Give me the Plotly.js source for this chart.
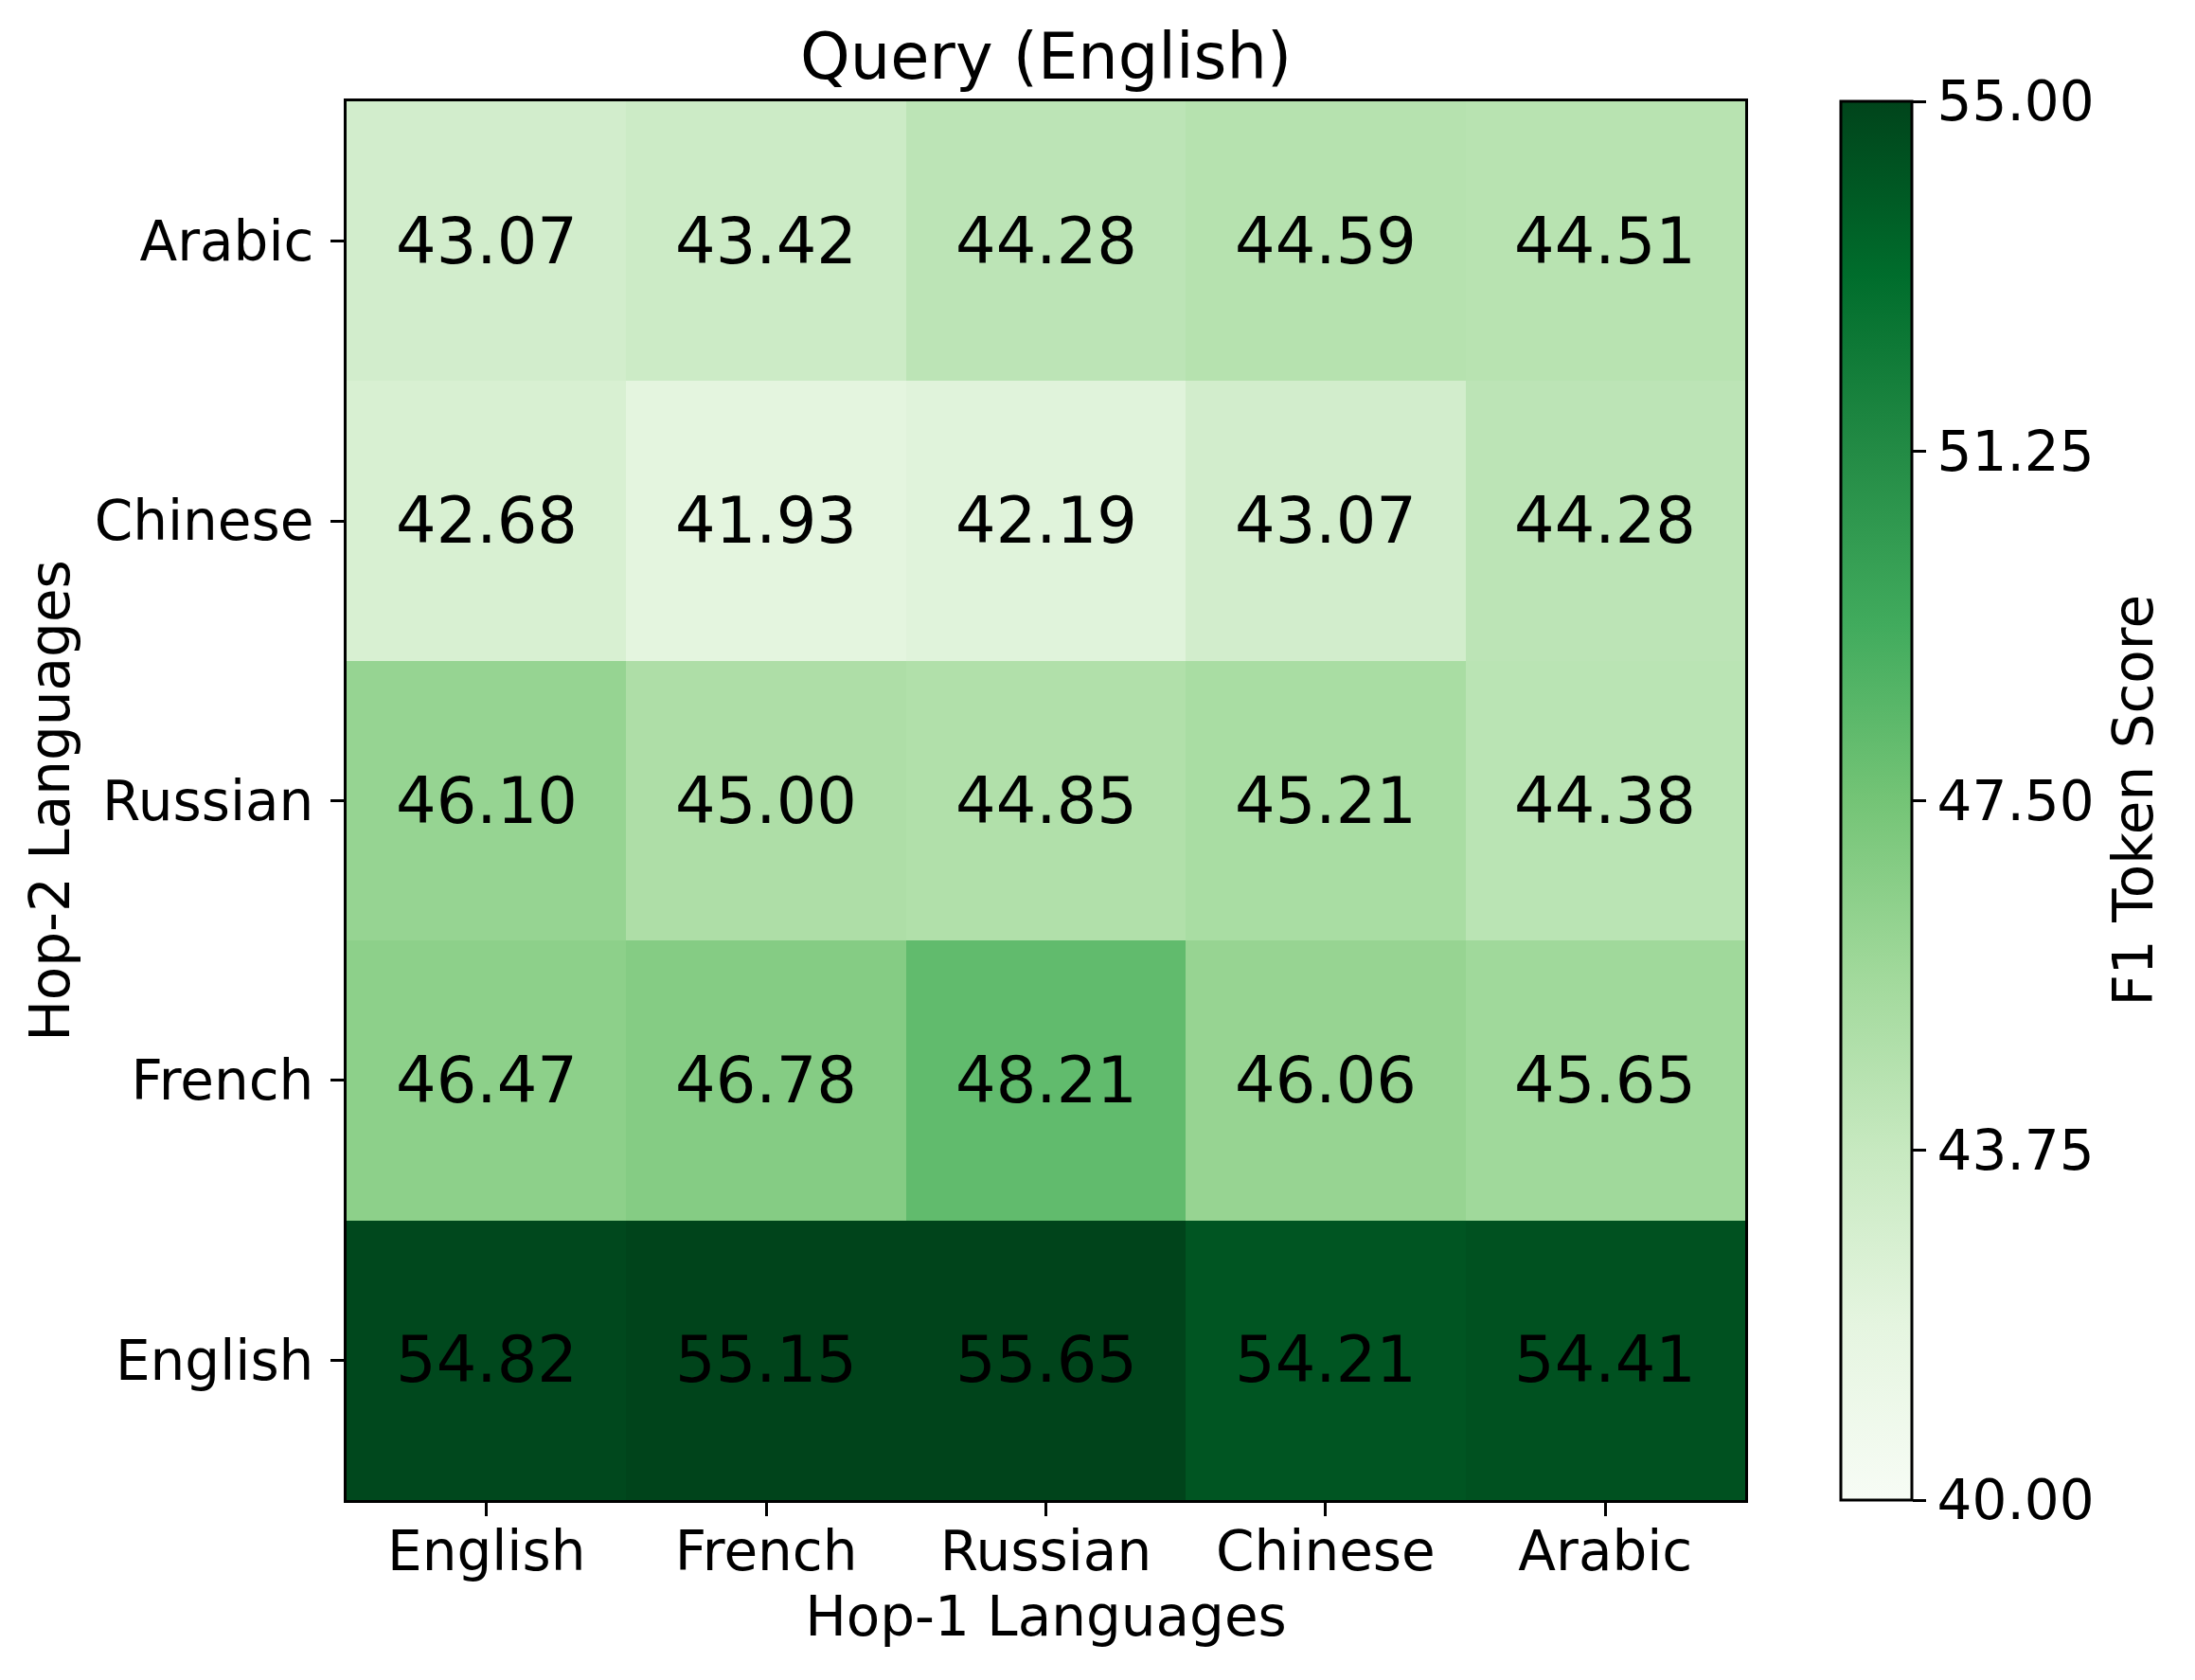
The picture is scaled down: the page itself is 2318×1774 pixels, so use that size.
<!DOCTYPE html>
<html>
<head>
<meta charset="utf-8">
<script src="https://cdn.plot.ly/plotly-3.0.1.min.js"></script>
<style>
  html, body { margin: 0; padding: 0; background: #fff; }
  #chart { width: 2318px; height: 1774px; }
</style>
</head>
<body>
<div id="chart"></div>
<script>
// Query (English): F1 token score by hop-1 / hop-2 language

const hop1Langs = ['English', 'French', 'Russian', 'Chinese', 'Arabic'];
const hop2Langs = ['English', 'French', 'Russian', 'Chinese', 'Arabic']; // bottom -> top

// one row per hop-2 language, columns follow hop1Langs
const rowEnglish = [54.82, 55.15, 55.65, 54.21, 54.41];
const rowFrench  = [46.47, 46.78, 48.21, 46.06, 45.65];
const rowRussian = [46.10, 45.00, 44.85, 45.21, 44.38];
const rowChinese = [42.68, 41.93, 42.19, 43.07, 44.28];
const rowArabic  = [43.07, 43.42, 44.28, 44.59, 44.51];

const cbarTicks = [40, 43.75, 47.5, 51.25, 55];

// matplotlib "Greens"
const greens = [
    [0.000, 'rgb(247,252,245)'],
    [0.125, 'rgb(229,245,224)'],
    [0.250, 'rgb(199,233,192)'],
    [0.375, 'rgb(161,217,155)'],
    [0.500, 'rgb(116,196,118)'],
    [0.625, 'rgb(65,171,93)'],
    [0.750, 'rgb(35,139,69)'],
    [0.875, 'rgb(0,109,44)'],
    [1.000, 'rgb(0,68,27)']
];

const FONT = 'DejaVu Sans, sans-serif';
const z = [rowEnglish, rowFrench, rowRussian, rowChinese, rowArabic];

const trace = {
    type: 'heatmap',
    x: hop1Langs,
    y: hop2Langs,
    z: z,
    zmin: 40,
    zmax: 55,
    colorscale: greens,
    texttemplate: '%{z:.2f}',
    textfont: { family: FONT, size: 67, color: '#000' },
    hoverinfo: 'skip',
    colorbar: {
        x: 1.0684,
        xanchor: 'left',
        xpad: 0,
        ypad: 0,
        y: 0.5,
        yanchor: 'middle',
        len: 1,
        thickness: 75,
        outlinewidth: 3,
        outlinecolor: '#000',
        tickvals: cbarTicks,
        tickformat: '.2f',
        ticks: 'outside',
        ticklen: 14,
        tickwidth: 3,
        tickcolor: '#000',
        tickfont: { family: FONT, size: 58, color: '#000' }
    }
};

const axisCommon = {
    type: 'category',
    showline: true,
    mirror: true,
    linecolor: '#000',
    linewidth: 3,
    ticks: 'outside',
    ticklen: 14,
    tickwidth: 3,
    tickcolor: '#000',
    tickfont: { family: FONT, size: 58, color: '#000' },
    showgrid: false,
    zeroline: false,
    fixedrange: true
};

const layout = {
    width: 2318,
    height: 1774,
    margin: { l: 366, r: 475, t: 107, b: 190 },
    paper_bgcolor: '#fff',
    plot_bgcolor: '#fff',
    font: { family: FONT, color: '#000' },
    title: {
        text: 'Query (English)',
        font: { family: FONT, size: 67, color: '#000' },
        x: 0.5,
        xref: 'paper',
        xanchor: 'center',
        y: 1 - 60 / 1774,
        yref: 'container',
        yanchor: 'middle'
    },
    xaxis: Object.assign({}, axisCommon, {
        ticklabelstandoff: -13,
        title: { text: 'Hop-1 Languages', font: { family: FONT, size: 58, color: '#000' }, standoff: 16 }
    }),
    yaxis: Object.assign({}, axisCommon, {
        ticklabelstandoff: 6,
        title: { text: 'Hop-2 Languages', font: { family: FONT, size: 58, color: '#000' }, standoff: 8 }
    }),
    annotations: [{
        text: 'F1 Token Score',
        xref: 'paper',
        yref: 'paper',
        x: (2252 - 366) / 1477,
        y: 0.5,
        xanchor: 'center',
        yanchor: 'middle',
        textangle: -90,
        showarrow: false,
        font: { family: FONT, size: 58, color: '#000' }
    }]
};

Plotly.newPlot('chart', [trace], layout, { displayModeBar: false, staticPlot: true });
</script>
</body>
</html>
